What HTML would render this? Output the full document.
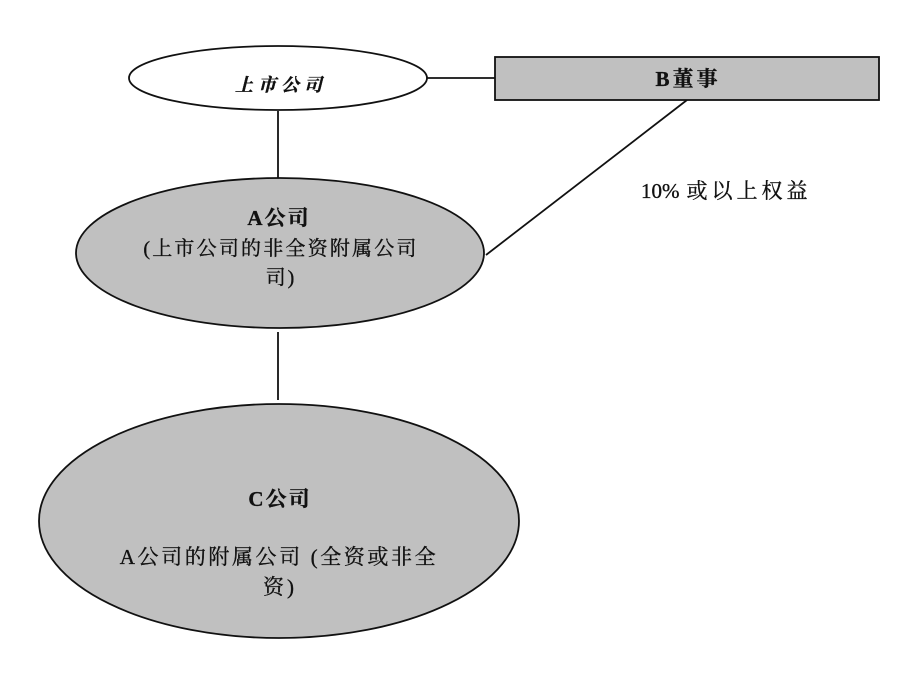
<!DOCTYPE html>
<html>
<head>
<meta charset="utf-8">
<style>
  html,body{margin:0;padding:0;background:#fff;}
  svg{display:block;}
  text{font-family:"Liberation Serif","Noto Serif CJK SC","Noto Sans CJK SC",serif;fill:#111;}
  .t{stroke:#111;stroke-width:0.35;}
</style>
</head>
<body>
<svg width="915" height="676" viewBox="0 0 915 676" xmlns="http://www.w3.org/2000/svg">
  <rect x="0" y="0" width="915" height="676" fill="#fff"/>
  <!-- connectors -->
  <line x1="427" y1="78" x2="495" y2="78" stroke="#111" stroke-width="1.8"/>
  <line x1="278" y1="111" x2="278" y2="179" stroke="#111" stroke-width="1.8"/>
  <line x1="687" y1="100" x2="486" y2="255" stroke="#111" stroke-width="1.8"/>
  <line x1="278" y1="332" x2="278" y2="400" stroke="#111" stroke-width="1.8"/>

  <!-- 上市公司 -->
  <ellipse cx="278" cy="78" rx="149" ry="32" fill="#fff" stroke="#111" stroke-width="1.8"/>
  <text class="t" x="281" y="91" font-size="18" font-style="italic" font-weight="bold" text-anchor="middle" letter-spacing="5">上市公司</text>

  <!-- B董事 -->
  <rect x="495" y="57" width="384" height="43" fill="#c0c0c0" stroke="#111" stroke-width="1.8"/>
  <text class="t" x="688" y="86" font-size="21" font-weight="bold" text-anchor="middle" letter-spacing="3">B董事</text>

  <!-- label -->
  <text class="t" x="641" y="198" font-size="21" letter-spacing="0">10%<tspan dx="7" letter-spacing="4">或以上权益</tspan></text>

  <!-- A公司 -->
  <ellipse cx="280" cy="253" rx="204" ry="75" fill="#c0c0c0" stroke="#111" stroke-width="1.8"/>
  <text class="t" x="279" y="225" font-size="21" font-weight="bold" text-anchor="middle" letter-spacing="2">A公司</text>
  <text class="t" x="281" y="255" font-size="20" text-anchor="middle" letter-spacing="2.2">(上市公司的非全资附属公司</text>
  <text class="t" x="281" y="284" font-size="20" text-anchor="middle" letter-spacing="2">司)</text>

  <!-- C公司 -->
  <ellipse cx="279" cy="521" rx="240" ry="117" fill="#c0c0c0" stroke="#111" stroke-width="1.8"/>
  <text class="t" x="280" y="506" font-size="21" font-weight="bold" text-anchor="middle" letter-spacing="2">C公司</text>
  <text class="t" x="279" y="564" font-size="21" text-anchor="middle" letter-spacing="2.6">A公司的附属公司 (全资或非全</text>
  <text class="t" x="280" y="594" font-size="21" text-anchor="middle" letter-spacing="3">资)</text>
</svg>
</body>
</html>
